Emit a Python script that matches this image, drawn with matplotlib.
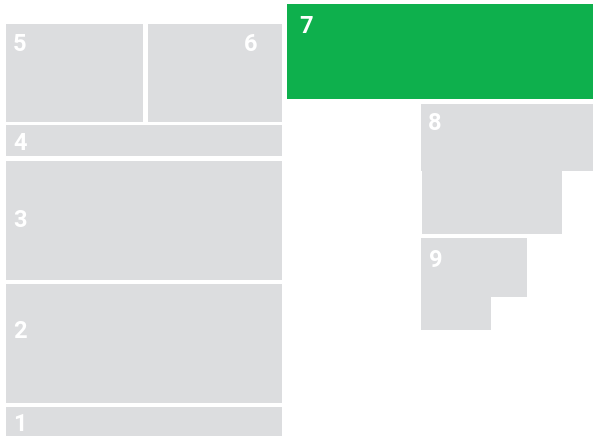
import matplotlib
matplotlib.use("Agg")
import matplotlib.pyplot as plt
from matplotlib.patches import Rectangle

# Block layout (pixel-space extents of each block piece)
labels = ["1", "2", "3", "4", "5", "6", "7", "8", "8", "9", "9"]
x0 = [6, 6, 6, 6, 6, 148, 287, 421, 422, 421, 421]
y0 = [407, 284, 161, 125, 24, 24, 4, 104, 171, 238, 297]
x1 = [282, 282, 282, 282, 143, 282, 593, 593, 562, 527, 491]
y1 = [436, 403, 280, 156, 122, 122, 99, 171, 234, 297, 330]
highlight = ["7"]

# label anchors (left, baseline)
lab_names = ["1", "2", "3", "4", "5", "6", "7", "8", "9"]
lab_x = [13, 13, 13, 13, 13, 244, 299, 428, 429]
lab_y = [431, 338, 227, 150, 51, 51, 33, 130, 267]

GREY = "#DCDDDF"
GREEN = "#0EB04D"

fig = plt.figure(figsize=(5.93, 4.36), dpi=100)
ax = fig.add_axes([0, 0, 1, 1])
ax.set_xlim(0, 593)
ax.set_ylim(436, 0)
ax.axis("off")

for lab, a, b, c, d in zip(labels, x0, y0, x1, y1):
    col = GREEN if lab in highlight else GREY
    ax.add_patch(Rectangle((a, b), c - a, d - b, facecolor=col, edgecolor="none", linewidth=0))

for n, lx, ly in zip(lab_names, lab_x, lab_y):
    ax.text(lx, ly, n, color="white", fontsize=17, fontweight="bold",
            family=["Roboto", "DejaVu Sans"], ha="left", va="baseline")

fig.savefig("out.png", dpi=100)
